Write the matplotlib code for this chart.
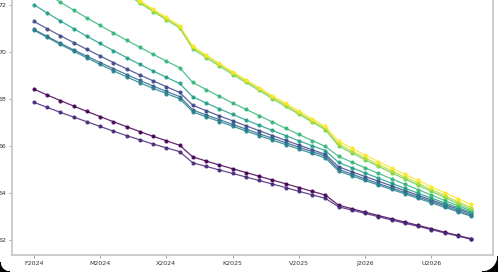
import matplotlib
matplotlib.use("Agg")
import matplotlib.pyplot as plt
from matplotlib.patches import Polygon
import numpy as np

# tick labels on the x axis (one every 5 points)
tick_labels = ["F2024", "M2024", "X2024", "K2025", "V2025", "J2026", "U2026"]
y_ticks = [62, 64, 66, 68, 70, 72]

# series values, 34 points each
s0 = [68.44, 68.19, 67.95, 67.72, 67.49, 67.27, 67.05, 66.84, 66.63, 66.43, 66.24, 66.05,
      65.55, 65.38, 65.21, 65.05, 64.89, 64.73, 64.57, 64.41, 64.25, 64.09, 63.93,
      63.50, 63.35, 63.20, 63.06, 62.92, 62.78, 62.64, 62.50, 62.35, 62.21, 62.07]
s1 = [67.88, 67.66, 67.45, 67.25, 67.05, 66.85, 66.65, 66.46, 66.28, 66.10, 65.94, 65.78,
      65.30, 65.15, 65.00, 64.85, 64.70, 64.55, 64.40, 64.25, 64.09, 63.94, 63.79,
      63.43, 63.29, 63.15, 63.01, 62.87, 62.73, 62.60, 62.46, 62.32, 62.19, 62.05]
s2 = [71.32, 71.01, 70.71, 70.42, 70.13, 69.85, 69.57, 69.30, 69.04, 68.79, 68.54, 68.30,
      67.75, 67.52, 67.30, 67.09, 66.88, 66.67, 66.46, 66.26, 66.06, 65.86, 65.66,
      65.13, 64.92, 64.72, 64.52, 64.32, 64.12, 63.92, 63.72, 63.53, 63.34, 63.15]
s3 = [70.98, 70.68, 70.39, 70.11, 69.84, 69.57, 69.31, 69.06, 68.81, 68.57, 68.34, 68.12,
      67.55, 67.34, 67.14, 66.94, 66.74, 66.54, 66.35, 66.16, 65.97, 65.78, 65.59,
      65.02, 64.82, 64.62, 64.42, 64.23, 64.04, 63.85, 63.66, 63.47, 63.27, 63.08]
s4 = [70.95, 70.64, 70.34, 70.05, 69.77, 69.49, 69.22, 68.96, 68.71, 68.47, 68.25, 68.03,
      67.47, 67.26, 67.06, 66.86, 66.66, 66.46, 66.27, 66.08, 65.89, 65.70, 65.51,
      64.95, 64.75, 64.55, 64.36, 64.17, 63.98, 63.79, 63.60, 63.41, 63.22, 63.03]
s5 = [72.03, 71.68, 71.34, 71.01, 70.69, 70.38, 70.08, 69.78, 69.49, 69.21, 68.94, 68.68,
      68.11, 67.85, 67.60, 67.36, 67.13, 66.90, 66.68, 66.46, 66.24, 66.03, 65.82,
      65.32, 65.09, 64.87, 64.65, 64.43, 64.22, 64.01, 63.80, 63.60, 63.40, 63.20]
s6 = [72.85, 72.49, 72.14, 71.80, 71.47, 71.15, 70.83, 70.52, 70.22, 69.92, 69.63, 69.35,
      68.72, 68.42, 68.13, 67.85, 67.58, 67.31, 67.04, 66.77, 66.51, 66.25, 66.00,
      65.58, 65.33, 65.09, 64.85, 64.62, 64.39, 64.16, 63.93, 63.70, 63.48, 63.26]
s7 = [75.40, 74.96, 74.52, 74.09, 73.68, 73.27, 72.87, 72.48, 72.10, 71.74, 71.39, 71.04,
      70.15, 69.78, 69.42, 69.06, 68.72, 68.38, 68.03, 67.70, 67.37, 67.04, 66.71,
      66.02, 65.72, 65.43, 65.15, 64.88, 64.61, 64.35, 64.09, 63.83, 63.57, 63.32]
s8 = [75.47, 75.02, 74.58, 74.15, 73.73, 73.32, 72.92, 72.53, 72.15, 71.79, 71.44, 71.09,
      70.22, 69.85, 69.49, 69.13, 68.79, 68.45, 68.10, 67.77, 67.43, 67.10, 66.77,
      66.10, 65.80, 65.51, 65.23, 64.96, 64.69, 64.43, 64.17, 63.91, 63.65, 63.40]
s9 = [75.52, 75.07, 74.63, 74.20, 73.78, 73.37, 72.97, 72.58, 72.20, 71.84, 71.49, 71.14,
      70.26, 69.89, 69.53, 69.18, 68.84, 68.50, 68.16, 67.83, 67.50, 67.17, 66.85,
      66.22, 65.92, 65.63, 65.35, 65.08, 64.81, 64.55, 64.29, 64.03, 63.78, 63.53]

series = [s0, s1, s2, s3, s4, s5, s6, s7, s8, s9]
colors = plt.cm.viridis(np.linspace(0, 1, len(series)))

W, H = 498, 272
fig = plt.figure(figsize=(W / 100, H / 100), dpi=100)
# axes runs off the top of the picture (the reference is a crop)
ax = fig.add_axes([12 / W, 17 / H, 481 / W, 1.2805])

x = np.arange(len(s0))
for vals, c in zip(series, colors):
    ax.plot(x, vals, color=c, lw=0.9, marker="o", ms=2.0, alpha=0.85)

ax.set_xlim(-1.65, 34.65)
ax.set_ylim(61.38, 76.2)
ax.set_xticks(x[::5])
ax.set_xticklabels(tick_labels)
ax.set_yticks(y_ticks)
ax.tick_params(labelsize=4.5, length=2, width=0.6, color="#999999", labelcolor="#333333", pad=2)
for sp in ax.spines.values():
    sp.set_color("#c4c4c4")
    sp.set_linewidth(1.2)

# dark rounded corners of the screenshot
def corner(cx, cy, r, sx, sy):
    t = np.linspace(0, np.pi / 2, 20)
    arc = [(cx + sx * r * np.cos(a), cy + sy * r * np.sin(a)) for a in t]
    pts = arc + [(cx + sx * r, cy + sy * r)]
    return Polygon([(px / W, py / H) for px, py in pts], closed=True,
                   transform=fig.transFigure, color="black", zorder=10)

fig.patches.append(corner(10, 10, 10, -1, -1))
fig.patches.append(corner(W - 16, 16, 16, 1, -1))

fig.savefig("out.png", dpi=100)
